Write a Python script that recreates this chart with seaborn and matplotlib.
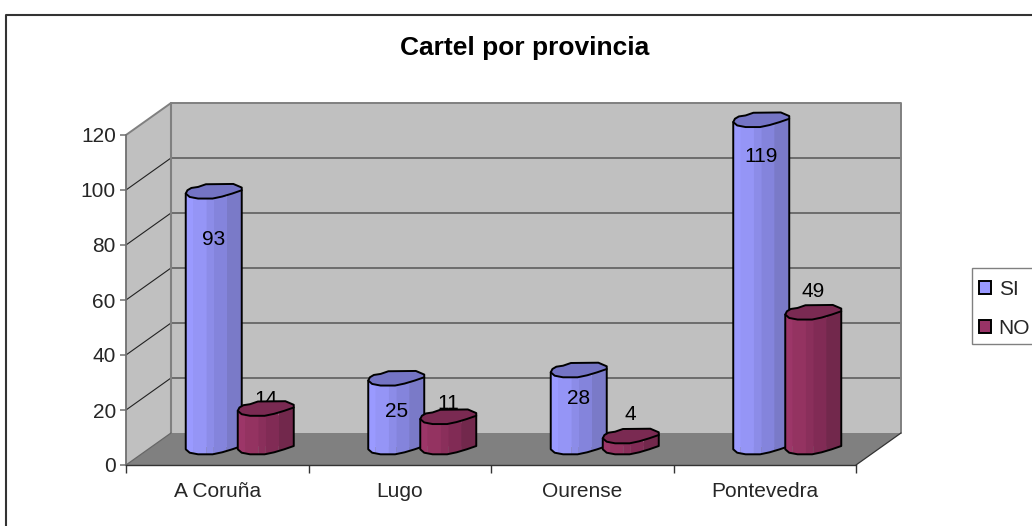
import numpy as np
import pandas as pd
import matplotlib
matplotlib.use("Agg")
import matplotlib.pyplot as plt
from matplotlib.patches import Polygon, Rectangle
import seaborn as sns

# ---- data ----
provinces = ["A Coruña", "Lugo", "Ourense", "Pontevedra"]
si_values = [93, 25, 28, 119]
no_values = [14, 11, 4, 49]
series_names = ["SI", "NO"]
title_text = "Cartel por provincia"
y_ticks = [0, 20, 40, 60, 80, 100, 120]

# ---- layout (pixels) ----
W, H = 1032, 526
AX_L, AX_R, AX_BASE, AX_TOP = 126, 856, 465, 135
DEPTH_X, DEPTH_Y = 45, 32
BAR_DX, BAR_BASE = 22.5, 447
label_nudge = {"SI": [-48.5, -33.5, -28.5, -36.5], "NO": [9, 13.5, 21.5, 20.5]}

# ---- styles ----
palette = {"SI": "#9999FF", "NO": "#993366"}
facets = {"SI": ["#9A9AFF", "#9595F6", "#8C8CE8", "#8484DC", "#7A7AC8"],
          "NO": ["#9C3668", "#943361", "#8A2F5B", "#812B55", "#72284C"]}
cap_color = {"SI": "#7474C4", "NO": "#7A2A52"}
facet_u = [0, .13, .37, .5, .73, 1]
front_u = np.array([0, .07, .22, .48, .65, .83, 1])
front_v = np.array([2.3, 5.7, 7.3, 7.3, 5.3, 2.3, -1])
back_pts = [(1, -3.7), (.85, -7.3), (.36, -7), (.22, -4.3), (.1, -3.3), (.03, -1)]
LW = 1.4

sns.set_style("white")
plt.rcParams["font.family"] = ["Liberation Sans", "DejaVu Sans"]
plt.rcParams["font.size"] = 15

df = pd.DataFrame({
    "provincia": provinces * 2,
    "serie": [series_names[0]] * 4 + [series_names[1]] * 4,
    "valor": si_values + no_values,
})

fig = plt.figure(figsize=(W / 100, H / 100), dpi=100, facecolor="white")

def rect_px(l, r, base, top):
    return [l / W, (H - base) / H, (r - l) / W, (base - top) / H]

# walls / floor / scale axes
ax0 = fig.add_axes(rect_px(AX_L, AX_R, AX_BASE, AX_TOP), facecolor="none")
ax0.set_xlim(-.5, 3.5)
ax0.set_ylim(0, 120)
ux = 4 / (AX_R - AX_L)
uy = 120 / (AX_BASE - AX_TOP)
dx, dy = DEPTH_X * ux, DEPTH_Y * uy
x0, x1 = -.5, 3.5
wall_kw = dict(clip_on=False, zorder=1)
ax0.add_patch(Polygon([(x0, 0), (x0 + dx, dy), (x0 + dx, 120 + dy), (x0, 120)],
                      fc="#C0C0C0", ec="none", **wall_kw))
ax0.add_patch(Rectangle((x0 + dx, dy), x1 - x0, 120, fc="#C0C0C0", ec="none", **wall_kw))
ax0.add_patch(Polygon([(x0, 0), (x1, 0), (x1 + dx, dy), (x0 + dx, dy)],
                      fc="#808080", ec="none", **wall_kw))
for v in y_ticks[1:-1]:
    ax0.plot([x0 + dx, x1 + dx], [v + dy, v + dy], color="#666666", lw=1.3, clip_on=False, zorder=1.5)
for v in y_ticks[1:-1]:
    ax0.plot([x0, x0 + dx], [v, v + dy], color="#222222", lw=.8, clip_on=False, zorder=1.5)
ax0.plot([x0, x0 + dx, x1 + dx, x1 + dx], [120, 120 + dy, 120 + dy, dy],
         color="#808080", lw=1.4, clip_on=False, zorder=1.6)
ax0.plot([x0 + dx, x0 + dx], [dy, 120 + dy], color="#808080", lw=1.5, clip_on=False, zorder=1.6)
ax0.plot([x1, x1 + dx], [0, dy], color="#333333", lw=.9, clip_on=False, zorder=1.6)
ax0.plot([x0, x0 + dx], [0, dy], color="#666666", lw=.9, clip_on=False, zorder=1.6)

for s in ["top", "right"]:
    ax0.spines[s].set_visible(False)
ax0.spines["left"].set_color("#707070")
ax0.spines["left"].set_linewidth(1.3)
ax0.spines["bottom"].set_color("#333333")
ax0.spines["bottom"].set_linewidth(1.0)
ax0.set_yticks(y_ticks)
ax0.tick_params(axis="y", length=4.3, width=1.1, color="#707070", labelsize=15, pad=3, left=True)
ax0.set_xticks(range(4))
ax0.set_xticklabels(provinces)
ax0.tick_params(axis="x", length=0, labelsize=15, pad=12.5, bottom=True)
ax0.set_xticks(np.arange(-.5, 4), minor=True)
ax0.tick_params(axis="x", which="minor", length=6, width=1, color="#333333", bottom=True)

# bars axes: mid-depth plane
ax = fig.add_axes(rect_px(AX_L + BAR_DX, AX_R + BAR_DX, BAR_BASE, BAR_BASE - (AX_BASE - AX_TOP)),
                  facecolor="none")
sns.barplot(data=df, x="provincia", y="valor", hue="serie", order=provinces,
            hue_order=series_names, palette=palette, width=.57, gap=0, saturation=1,
            legend=True, ax=ax, zorder=2)
ax.set_xlim(-.5, 3.5)
ax.set_ylim(0, 120)
ax.axis("off")
handles, labels = ax.get_legend_handles_labels()
ax.get_legend().remove()

body_w = 56 * ux
for cont, name, zb in zip(ax.containers, series_names, [3, 4]):
    z_label = 5 if name == "SI" else 3.5
    for i, rect in enumerate(cont):
        cx = rect.get_x() + rect.get_width() / 2
        h = rect.get_height()
        rect.set_height(max(h - 5 * uy, 0))
        left = cx - body_w / 2
        def fx(u):
            return left + np.asarray(u) * body_w
        def front(u):
            return np.interp(u, front_u, front_v) * uy * -1
        for j, col in enumerate(facets[name]):
            us = [u for u in sorted(set(list(front_u) + facet_u[j:j + 2]))
                  if facet_u[j] <= u <= facet_u[j + 1]]
            xs = list(fx(us)) + list(fx(us[::-1]))
            ys = [h + front(u) for u in us] + [front(u) for u in us[::-1]]
            ax.add_patch(Polygon(np.c_[xs, ys], fc=col, ec="none", zorder=zb, clip_on=False))
        # outline of body
        xs = list(fx(front_u))
        ys_low = [front(u) for u in front_u]
        ax.plot([fx(0)] + xs + [fx(1)], [h + front(0)] + ys_low + [h + front(1)],
                color="black", lw=LW, zorder=zb + .1, clip_on=False, solid_joinstyle="round")
        # cap
        cap = [(fx(u), h + front(u)) for u in front_u]
        cap += [(fx(u), h - v * uy) for u, v in back_pts]
        ax.add_patch(Polygon(cap, closed=True, fc=cap_color[name], ec="black", lw=LW,
                             zorder=zb + .2, clip_on=False, joinstyle="round"))
        ax.annotate(str(int(h)), (cx, h), xytext=(0, label_nudge[name][i]),
                    textcoords="offset pixels", ha="center", va="center", fontsize=15,
                    color="black", zorder=z_label, annotation_clip=False)

# title, outer frame, legend
fig.text(525 / W, 1 - 48.5 / H, title_text, ha="center", va="center", fontsize=19,
         fontweight="bold", color="black")
fig.add_artist(plt.Line2D([5.5 / W, 5.5 / W, 1], [0, 1 - 14.5 / H, 1 - 14.5 / H],
                          color="#333333", lw=1.5, transform=fig.transFigure))

fig.add_artist(Rectangle((971.5 / W, 1 - 344 / H), 70 / W, 76 / H, fc="white", ec="#808080",
                         lw=1, transform=fig.transFigure))
leg = fig.legend(handles, labels, loc="upper left", bbox_to_anchor=(979 / W, 1 - 280 / H),
                 borderaxespad=0, borderpad=0, fontsize=15, frameon=False,
                 handlelength=.58, handleheight=.58, handletextpad=.36, labelspacing=.95)
for h_ in leg.get_patches():
    h_.set_edgecolor("black")
    h_.set_linewidth(LW)

fig.savefig("out.png", dpi=100)
